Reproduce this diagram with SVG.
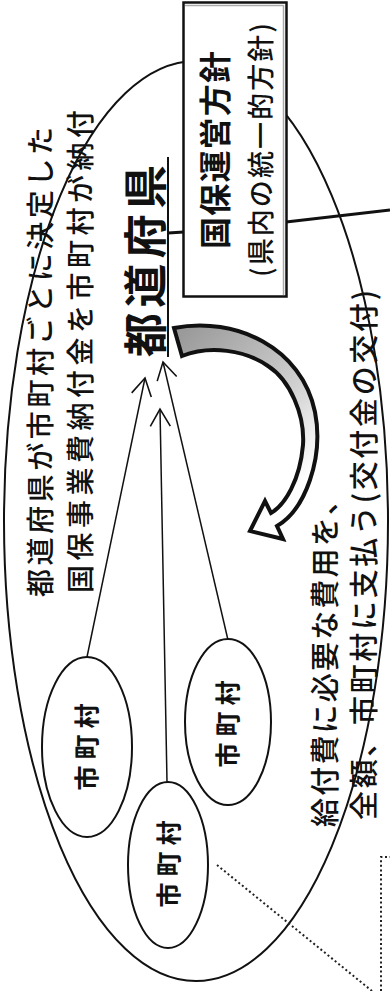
<svg xmlns="http://www.w3.org/2000/svg" width="390" height="991" viewBox="0 0 390 991">
<style>
.t{font-family:"Noto Sans CJK JP","Noto Sans CJK SC",sans-serif;fill:#111;text-anchor:middle;dominant-baseline:central}
.ln{stroke:#111;fill:none}
.ell{fill:#fff;stroke:#111;stroke-width:2}
.dot{stroke:#222;stroke-width:2;stroke-dasharray:2 2.6;fill:none}
</style>
<defs>
<marker id="ah" viewBox="0 0 22 22" refX="20" refY="11" markerWidth="22" markerHeight="22" markerUnits="userSpaceOnUse" orient="auto">
<path d="M2.7,1 L20,11 L2.7,21" fill="none" stroke="#111" stroke-width="1.6"/>
</marker>
<linearGradient id="g" gradientUnits="userSpaceOnUse" x1="180" y1="335" x2="315" y2="470">
<stop offset="0" stop-color="#9a9a9a"/>
<stop offset="0.6" stop-color="#cfcfcf"/>
<stop offset="1" stop-color="#ffffff"/>
</linearGradient>
</defs>
<rect width="390" height="991" fill="#fff"/>

<g id="prefecture-area">
<ellipse cx="196" cy="521" rx="192" ry="460" fill="none" stroke="#111" stroke-width="2"/>
</g>

<g id="connectors">
<line class="ln" x1="168" y1="233" x2="184" y2="232" stroke-width="3"/>
<line class="ln" x1="286" y1="222" x2="390" y2="210" stroke-width="3"/>
<line class="ln" x1="87" y1="657" x2="145" y2="378" stroke-width="1.5" marker-end="url(#ah)"/>
<line class="ln" x1="167" y1="782" x2="160" y2="409" stroke-width="1.5" marker-end="url(#ah)"/>
<line class="ln" x1="228" y1="640" x2="163" y2="362" stroke-width="1.5" marker-end="url(#ah)"/>
<path d="M174,328 C236,316 302,348 315,412 C324,458 305,510 277,526 L283,539 L250,531 L265,501 L271,513 C285,505 300,480 303,445 C305,415 290,380 268,366 C245,350 210,345 182,356 Z" fill="url(#g)" stroke="#111" stroke-width="4" stroke-linejoin="miter"/>
<line class="dot" x1="217" y1="865" x2="372" y2="991"/>
<polyline class="dot" points="381,991 381,857 390,857"/>
</g>

<g id="policy-box">
<rect x="183.5" y="2.5" width="103" height="294" fill="#fff" stroke="#111" stroke-width="2.5"/>
<line x1="185" y1="5.5" x2="283.5" y2="5.5" stroke="#aaa" stroke-width="1.5"/>
<line x1="283.5" y1="5" x2="283.5" y2="295" stroke="#aaa" stroke-width="1.5"/>
<text class="t" transform="translate(213,150) rotate(-90)" font-size="32" font-weight="bold" textLength="198" lengthAdjust="spacing">国保運営方針</text>
<text class="t" transform="translate(259,150) rotate(-90)" font-size="27" font-weight="500" textLength="254" lengthAdjust="spacing">(県内の統一的方針)</text>
</g>

<g id="prefecture-label">
<text class="t" transform="translate(143,261) rotate(-90)" font-size="44" font-weight="bold" textLength="192" lengthAdjust="spacing">都道府県</text>
<line x1="168" y1="157" x2="168" y2="357" stroke="#111" stroke-width="2"/>
</g>

<g id="notes">
<text class="t" transform="translate(38.5,362) rotate(-90)" font-size="28" font-weight="500" textLength="470" lengthAdjust="spacing">都道府県が市町村ごとに決定した</text>
<text class="t" transform="translate(78.5,351.5) rotate(-90)" font-size="28" font-weight="500" textLength="483" lengthAdjust="spacing">国保事業費納付金を市町村が納付</text>
<text class="t" transform="translate(323,656.5) rotate(-90)" font-size="29" font-weight="500" textLength="341" lengthAdjust="spacing">給付費に必要な費用を、</text>
<text class="t" transform="translate(362,555) rotate(-90)" font-size="29" font-weight="500" textLength="530" lengthAdjust="spacing">全額、市町村に支払う(交付金の交付)</text>
</g>

<g id="municipality-1">
<ellipse class="ell" cx="87" cy="747" rx="45" ry="90"/>
<text class="t" transform="translate(85,747) rotate(-90)" font-size="25" font-weight="bold" textLength="87" lengthAdjust="spacing">市町村</text>
</g>
<g id="municipality-2">
<ellipse class="ell" cx="168" cy="865" rx="40" ry="83"/>
<text class="t" transform="translate(167,864) rotate(-90)" font-size="25" font-weight="bold" textLength="87" lengthAdjust="spacing">市町村</text>
</g>
<g id="municipality-3">
<ellipse class="ell" cx="228" cy="722" rx="43" ry="83"/>
<text class="t" transform="translate(226,724) rotate(-90)" font-size="25" font-weight="bold" textLength="87" lengthAdjust="spacing">市町村</text>
</g>
</svg>
